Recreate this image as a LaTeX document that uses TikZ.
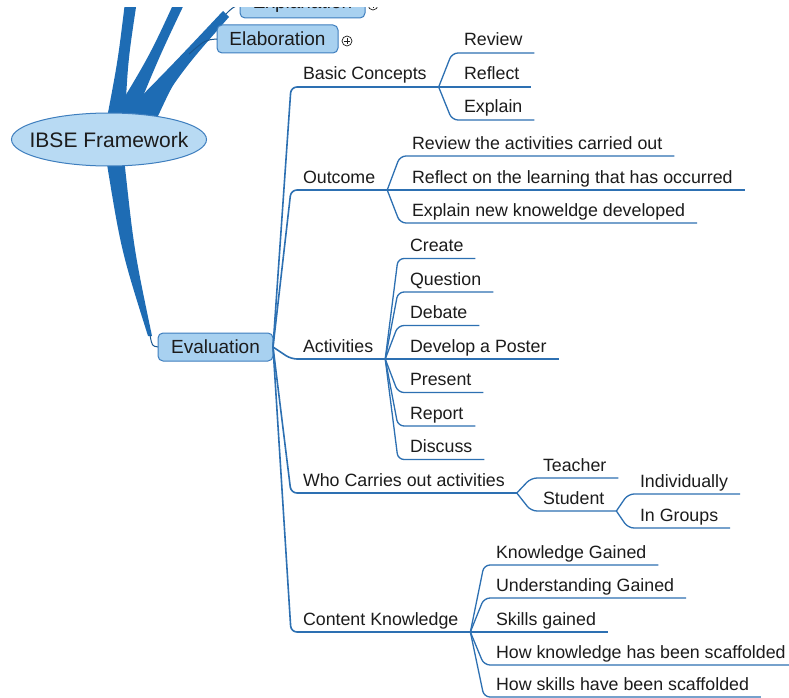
\documentclass[tikz,border=0pt]{standalone}
\usepackage{fontspec}
\setmainfont{Liberation Sans}
\definecolor{branchblue}{RGB}{30,108,180}
\definecolor{linkblue}{RGB}{45,112,178}
\definecolor{boxfill}{RGB}{168,209,240}
\definecolor{boxline}{RGB}{62,126,190}
\definecolor{rootfill}{RGB}{184,218,243}
\definecolor{inkgrey}{RGB}{28,28,28}
\newcommand\tpfont{\fontsize{17.8}{21}\selectfont}
\newcommand\bxfont{\fontsize{19}{23}\selectfont}
\newcommand\rtfont{\fontsize{21}{25}\selectfont}

\begin{document}
\begin{tikzpicture}[x=1pt,y=-1pt,
  topic/.style={anchor=south west, inner xsep=12pt, inner ysep=7pt, outer sep=0pt,
                text depth=0pt, font=\tpfont, text=inkgrey},
  link/.style={draw=linkblue, line width=1.3pt, rounded corners=6pt},
  mainlink/.style={link, line width=1.6pt},
  branch/.style={fill=branchblue},
  thinlink/.style={draw=branchblue!80!black, line width=1pt},
  mainbox/.style={draw=boxline, fill=boxfill, line width=1pt, rounded corners=5pt,
                  minimum height=28pt, inner sep=0pt, outer sep=0pt, font=\bxfont, text=inkgrey},
  expander/.style={circle, draw=inkgrey, fill=white, line width=0.7pt, minimum size=10pt, inner sep=0pt,
    path picture={\draw[inkgrey, line width=0.7pt]
      ([xshift=2pt]path picture bounding box.west) -- ([xshift=-2pt]path picture bounding box.east)
      ([yshift=-2pt]path picture bounding box.north) -- ([yshift=2pt]path picture bounding box.south);}},
]
\useasboundingbox (0,0) rectangle (789,698);
\fill[white] (0,0) rectangle (789,698);
% the map is shown from a little below the top edge
\clip (0,8) rectangle (789,698);

% tips of the tapered main branches
\coordinate (tipexp) at (226,14);
\coordinate (tipelab) at (189,54);
\coordinate (tipeval) at (150,335);

% tapered main branches leaving the root
\fill[branch] (107,118) .. controls (118,60) .. (126,-6) -- (138,-6) .. controls (128,60) .. (125,118) -- cycle;
\fill[branch] (112,118) .. controls (150,55) .. (178,-6) -- (189,-6) .. controls (160,55) .. (134,118) -- cycle;
\fill[branch] (120,118) .. controls (175,62) .. (223,11) -- (229,17) .. controls (186,66) .. (152,116) -- cycle;
\fill[branch] (126,118) .. controls (160,86) .. (187,51) -- (191,56) .. controls (172,86) .. (158,116) -- cycle;
\fill[branch] (106,158) .. controls (121,250) .. (148,336) -- (152,336) .. controls (134,250) .. (124,158) -- cycle;

% main topics
\node[mainbox, minimum width=125pt] (exp) at (302.5,4) {Explanation};
\node[mainbox, minimum width=121pt] (elab) at (277.5,39) {Elaboration};
\node[mainbox, minimum width=115pt] (ev) at (215.5,347) {Evaluation};
\node[expander] (expx) at (373,5) {};
\node[expander] (elabx) at (347,41) {};

\draw[thinlink] (tipexp) .. controls (232,8) .. (exp.west);
\draw[thinlink] (tipelab) .. controls (205,40) .. (elab.west);
\draw[thinlink] (tipeval) .. controls (152,346) .. (ev.west);

% root
\filldraw[draw=boxline, fill=rootfill, line width=1pt] (109,139.5) ellipse [x radius=97.5, y radius=26.5];
\node[font=\rtfont, text=inkgrey, inner sep=0pt] (root) at (109,139.5) {IBSE Framework};

% first level under Evaluation
\node[topic] (bc)  at (291,87)  {Basic Concepts};
\node[topic] (out) at (291,190) {Outcome};
\node[topic] (act) at (291,359) {Activities};
\node[topic] (who) at (291,493) {Who Carries out activities};
\node[topic] (ck)  at (291,632) {Content Knowledge};
\foreach \t in {bc,out,act,who,ck}
  \draw[mainlink] (ev.east) -- (\t.south west) -- (\t.south east);

% Basic Concepts
\node[topic] (bc1) at (452,53)  {Review};
\node[topic] (bc2) at (452,87)  {Reflect};
\node[topic] (bc3) at (452,120) {Explain};
\foreach \t in {bc1,bc2,bc3}
  \draw[link] (bc.south east) -- (\t.south west) -- (\t.south east);

% Outcome
\node[topic] (out1) at (400,156) {Review the activities carried out};
\node[topic] (out2) at (400,190) {Reflect on the learning that has occurred};
\node[topic] (out3) at (400,223) {Explain new knoweldge developed};
\foreach \t in {out1,out2,out3}
  \draw[link] (out.south east) -- (\t.south west) -- (\t.south east);

% Activities
\node[topic] (act1) at (398,258.5) {Create};
\node[topic] (act2) at (398,292)   {Question};
\node[topic] (act3) at (398,325.5) {Debate};
\node[topic] (act4) at (398,359)   {Develop a Poster};
\node[topic] (act5) at (398,392.5) {Present};
\node[topic] (act6) at (398,426)   {Report};
\node[topic] (act7) at (398,459.5) {Discuss};
\foreach \t in {act1,act2,act3,act4,act5,act6,act7}
  \draw[link] (act.south east) -- (\t.south west) -- (\t.south east);

% Who carries out activities
\node[topic] (who1) at (531,478) {Teacher};
\node[topic] (who2) at (531,511) {Student};
\foreach \t in {who1,who2}
  \draw[link] (who.south east) -- (\t.south west) -- (\t.south east);
\node[topic] (st1) at (628,494) {Individually};
\node[topic] (st2) at (628,528) {In Groups};
\foreach \t in {st1,st2}
  \draw[link] (who2.south east) -- (\t.south west) -- (\t.south east);

% Content knowledge
\node[topic] (ck1) at (484,565) {Knowledge Gained};
\node[topic] (ck2) at (484,598) {Understanding Gained};
\node[topic] (ck3) at (484,632) {Skills gained};
\node[topic] (ck4) at (484,665) {How knowledge has been scaffolded};
\node[topic] (ck5) at (484,697) {How skills have been scaffolded};
\foreach \t in {ck1,ck2,ck3,ck4,ck5}
  \draw[link] (ck.south east) -- (\t.south west) -- (\t.south east);
\end{tikzpicture}
\end{document}
